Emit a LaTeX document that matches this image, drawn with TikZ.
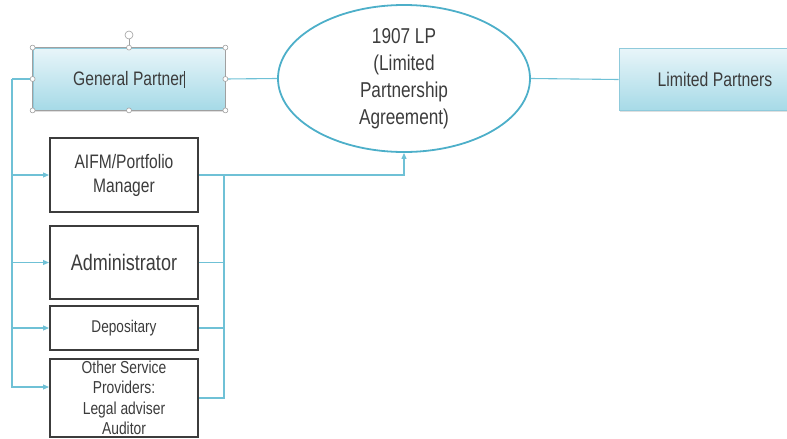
\documentclass[tikz,border=0pt]{standalone}
\usepackage{fontspec}
\setmainfont{Liberation Sans}[FakeStretch=0.8]
\usetikzlibrary{arrows.meta,shapes.geometric,shadows}
\definecolor{linec}{HTML}{6FC1D6}
\definecolor{ellc}{HTML}{4DAFC9}
\definecolor{txt}{HTML}{3C3C3C}
\definecolor{boxtop}{HTML}{E8F5F9}
\definecolor{boxbot}{HTML}{A6DAE7}
\definecolor{boxedge}{HTML}{8FCADB}
\definecolor{handle}{HTML}{A0A0A0}
\begin{document}
\begin{tikzpicture}[x=1pt,y=-1pt,
  bluebox/.style={rectangle, draw=boxedge, line width=0.8pt, top color=boxtop, bottom color=boxbot,
    minimum width=192pt, minimum height=62pt, inner sep=0pt, text=txt,
    drop shadow={shadow xshift=1pt, shadow yshift=-1.5pt, opacity=0.25}},
  svc/.style={rectangle, draw=txt, line width=2pt, fill=white, minimum width=148pt, inner sep=0pt,
    text=txt, align=center},
  conn/.style={draw=linec, line width=1.1pt},
  arr/.style={conn, -{Triangle[length=6pt,width=5pt]}},
  hdl/.style={circle, draw=handle, fill=white, line width=0.6pt, minimum size=5pt, inner sep=0pt}
]
\useasboundingbox (0,0) rectangle (787,439);

% top row
\node[bluebox, font=\fontsize{19.5}{22}\selectfont] (gp) at (129,79) {General Partner\rule[-2pt]{0.6pt}{17pt}};
\draw[handle, line width=0.5pt] (gp.south west) rectangle (gp.north east);
\node[ellipse, draw=ellc, line width=1.8pt, minimum width=252pt, minimum height=147pt, inner sep=0pt,
  align=center, text=txt, font=\fontsize{21.5}{27}\selectfont] (agr) at (404,78.5)
  {1907 LP\\(Limited\\Partnership\\Agreement)};
\node[bluebox, font=\fontsize{19.7}{22}\selectfont] (lps) at (715,79.5) {Limited Partners};

% selection handles of General Partner
\node[hdl] (h1) at (gp.north west) {};
\node[hdl] (h2) at (gp.north) {};
\node[hdl] (h3) at (gp.north east) {};
\node[hdl] (h4) at (gp.west) {};
\node[hdl] (h5) at (gp.east) {};
\node[hdl] (h6) at (gp.south west) {};
\node[hdl] (h7) at (gp.south) {};
\node[hdl] (h8) at (gp.south east) {};
\node[hdl, minimum size=8pt] (rot) at (129,35) {};
\draw[handle, line width=0.6pt] (rot) -- (h2);

% service providers
\node[svc, minimum height=74pt, font=\fontsize{19.5}{24}\selectfont] (aifm) at (124,175) {AIFM/Portfolio\\Manager};
\node[svc, minimum height=73pt, font=\fontsize{22.5}{24}\selectfont] (admin) at (124,262.5) {Administrator};
\node[svc, minimum height=44pt, font=\fontsize{17}{19}\selectfont] (dep) at (124,328) {Depositary};
\node[svc, minimum height=78pt, font=\fontsize{17.3}{20.5}\selectfont] (oth) at (124,398)
  {Other Service\\Providers:\\Legal adviser\\Auditor};

% connectors
\coordinate (tl) at (12,79);
\coordinate (tr) at (224,175);
\draw[conn] (h4) -- (tl);
\draw[arr] (tl) |- (aifm.west);
\draw[arr] (tl) |- (admin.west);
\draw[arr] (tl) |- (dep.west);
\draw[arr] (tl) |- ([yshift=11pt]oth.west);
\draw[conn] (h5) -- (agr.west);
\draw[conn] (agr.east) -- (lps.west);
\draw[arr] (aifm.east) -| (agr.south);
\draw[conn] (admin.east) -- (tr |- admin.east);
\draw[conn] (dep.east) -- (tr |- dep.east);
\draw[conn] (oth.east) -- (tr |- oth.east) -- (tr);
\end{tikzpicture}
\end{document}
